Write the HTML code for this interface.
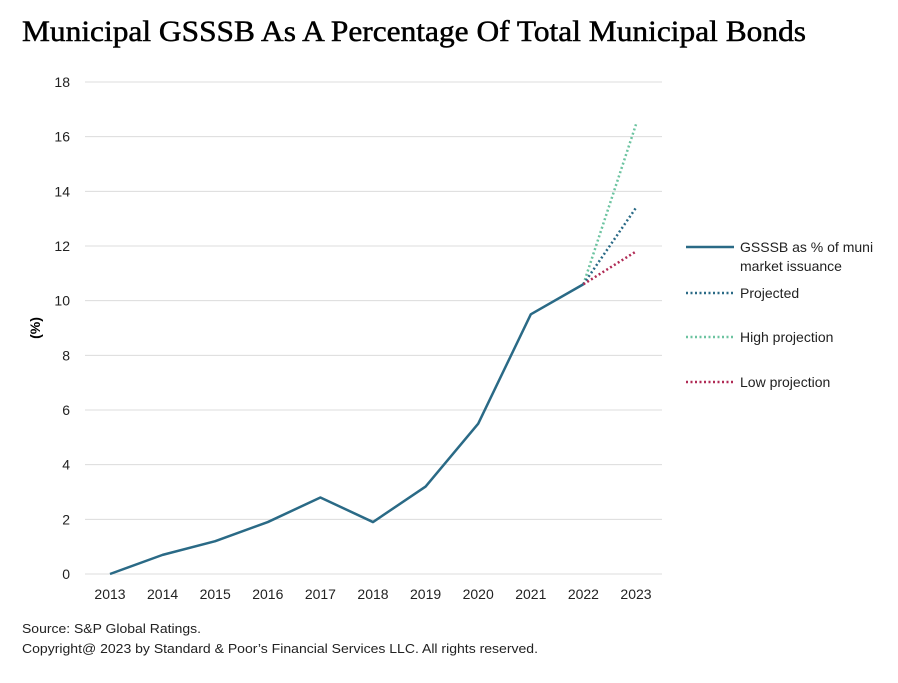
<!DOCTYPE html>
<html><head><meta charset="utf-8"><style>
body{margin:0;background:#fff;width:898px;height:678px;overflow:hidden;font-family:"Liberation Sans",sans-serif}
</style></head><body>
<svg width="898" height="678" id="svg">
<text x="22" y="41" font-family="Liberation Serif" font-size="30" fill="#000" stroke="#000" stroke-width="0.5" textLength="784" lengthAdjust="spacingAndGlyphs">Municipal GSSSB As A Percentage Of Total Municipal Bonds</text>
<text transform="translate(40,328) rotate(-90)" text-anchor="middle" font-size="14" font-weight="bold" fill="#000">(%)</text>
<g id="grid"></g><g id="series"></g>
<g font-size="14" fill="#222">
<line x1="686" y1="247" x2="734" y2="247" stroke="#2a6a86" stroke-width="2.5"/>
<text x="740" y="252">GSSSB as % of muni</text>
<text x="740" y="271">market issuance</text>
<line x1="686" y1="293" x2="734" y2="293" stroke="#2a6a86" stroke-width="2.5" stroke-dasharray="2,2.5"/>
<text x="740" y="298">Projected</text>
<line x1="686" y1="337" x2="734" y2="337" stroke="#6cc3a0" stroke-width="2.5" stroke-dasharray="2,2.5"/>
<text x="740" y="342">High projection</text>
<line x1="686" y1="382" x2="734" y2="382" stroke="#b02a55" stroke-width="2.5" stroke-dasharray="2,2.5"/>
<text x="740" y="387">Low projection</text>
</g>
<text x="22" y="633" font-size="13" fill="#222" textLength="179" lengthAdjust="spacingAndGlyphs">Source: S&amp;P Global Ratings.</text>
<text x="22" y="653" font-size="13" fill="#222" textLength="516" lengthAdjust="spacingAndGlyphs">Copyright@ 2023 by Standard &amp; Poor’s Financial Services LLC. All rights reserved.</text>
</svg>
<script>
const years=[2013,2014,2015,2016,2017,2018,2019,2020,2021,2022,2023];
const actual=[0,0.7,1.2,1.9,2.8,1.9,3.2,5.5,9.5,10.6];
const projected=[10.6,13.4];
const highProj=[10.6,16.45];
const lowProj=[10.6,11.8];
const yTicks=[0,2,4,6,8,10,12,14,16,18];
const NS="http://www.w3.org/2000/svg";
const x=i=>110+i*52.6;
const y=v=>574-v*(492/18);
const grid=document.getElementById('grid'),ser=document.getElementById('series');
function mk(tag,at,parent){const e=document.createElementNS(NS,tag);for(const k in at)e.setAttribute(k,at[k]);parent.appendChild(e);return e;}
yTicks.forEach(t=>{
 const l=mk('line',{x1:85,x2:662,y1:y(t),y2:y(t),stroke:'#dcdcdc','stroke-width':1},grid);
 
 
 const tx=mk('text',{x:70,y:y(t)+5,'text-anchor':'end','font-size':14,fill:'#222'},grid);tx.textContent=t;
 
 
});
years.forEach((yr,i)=>{
 const tx=mk('text',{x:x(i),y:599,'text-anchor':'middle','font-size':14,fill:'#222'},grid);tx.textContent=yr;
 
 
});
function proj(arr,color,name){
 const l=mk('line',{x1:x(9),y1:y(arr[0]),x2:x(10),y2:y(arr[1]),stroke:color,'stroke-width':2.5,'stroke-dasharray':'2,2.5'},ser);
 
 
}
proj(highProj,'#6cc3a0','high-projection-line');
proj(projected,'#2a6a86','projected-line');
proj(lowProj,'#b02a55','low-projection-line');
const p=mk('polyline',{points:actual.map((v,i)=>x(i)+','+y(v)).join(' '),fill:'none',stroke:'#2a6a86','stroke-width':2.5,'stroke-linejoin':'round'},ser);


</script>
</body></html>
